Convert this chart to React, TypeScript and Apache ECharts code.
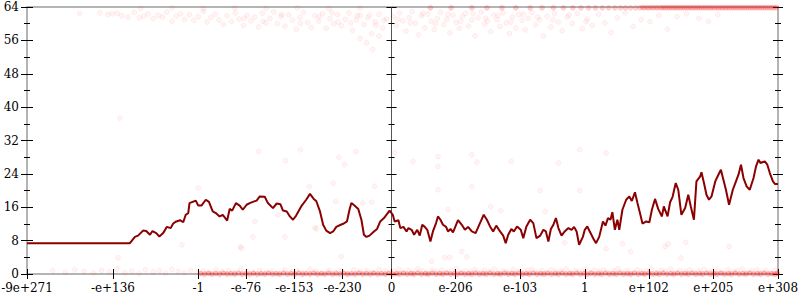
import React, { useEffect, useRef } from "react";
import * as echarts from "echarts";

// x positions are on the floating-point ordinal axis, in decades (0 = zero)
const xTickLabels = ["-9e+271", "-e+136", "-1", "-e-76", "-e-153", "-e-230", "0", "e-206", "e-103", "1", "e+102", "e+205", "e+308"];
const xTickPos = [-581, -444, -308, -232, -155, -78, 0, 102, 205, 308, 410, 513, 616];
const yTicks = [0, 8, 16, 24, 32, 40, 48, 56, 64];

const lineX = [-581, -417, -409, -404, -396, -391, -385, -381, -375, -370, -364, -358, -352, -348, -343, -337, -332, -328, -324, -322, -317, -312, -308, -303, -296, -291, -285, -280, -274, -269, -262, -258, -254, -248, -242, -237, -231, -226, -221, -215, -210, -202, -197, -189, -183, -177, -173, -167, -162, -157, -152, -144, -136, -130, -124, -120, -114, -109, -104, -98, -93, -88, -81, -76, -71, -67, -64, -59, -53, -48, -44, -40, -35, -28, -23, -18, -12, -7, -3, 2, 5, 11, 14, 19, 24, 27, 32, 36, 41, 45, 49, 53, 57, 62, 66, 71, 74, 78, 82, 87, 90, 94, 98, 106, 112, 117, 122, 128, 134, 141, 147, 152, 157, 162, 167, 173, 178, 182, 186, 191, 195, 200, 206, 210, 215, 221, 226, 231, 237, 242, 246, 250, 254, 258, 262, 266, 271, 276, 282, 287, 291, 295, 299, 305, 308, 312, 316, 322, 326, 331, 337, 341, 345, 349, 352, 356, 360, 363, 368, 374, 379, 383, 388, 392, 396, 400, 406, 411, 415, 420, 425, 431, 434, 440, 444, 448, 453, 457, 462, 468, 473, 477, 482, 486, 492, 494, 498, 502, 506, 510, 516, 521, 525, 529, 533, 538, 544, 549, 553, 557, 561, 566, 571, 577, 581, 585, 588, 595, 599, 603, 608, 611, 616];
const lineY = [7.4, 7.4, 8.9, 9.2, 10.4, 10.3, 9.4, 10.3, 9.8, 9.0, 9.8, 11.3, 11.0, 12.1, 12.6, 12.9, 12.4, 14.2, 14.6, 17.0, 17.3, 17.6, 16.4, 16.4, 17.8, 17.3, 15.0, 14.6, 13.8, 14.2, 12.8, 15.6, 15.2, 17.0, 16.4, 15.4, 16.6, 17.0, 17.3, 17.6, 18.6, 18.5, 17.0, 15.8, 16.9, 16.7, 15.2, 15.0, 13.8, 13.0, 14.0, 16.2, 17.8, 19.2, 18.0, 17.5, 15.0, 11.8, 10.4, 9.8, 10.2, 11.3, 11.8, 12.1, 12.6, 15.4, 17.0, 16.4, 15.6, 13.0, 9.4, 8.9, 9.2, 10.2, 10.8, 12.6, 13.4, 14.4, 15.2, 14.2, 12.6, 12.9, 11.0, 11.3, 10.2, 11.0, 10.6, 9.4, 10.6, 9.2, 11.8, 11.3, 10.6, 7.8, 10.2, 12.2, 13.8, 13.0, 11.8, 11.3, 10.2, 10.8, 10.0, 12.9, 11.8, 10.6, 11.3, 10.2, 9.8, 12.2, 14.2, 13.0, 11.4, 10.2, 11.6, 10.2, 9.2, 7.4, 9.4, 10.8, 10.2, 11.4, 10.6, 8.6, 11.4, 13.0, 12.2, 8.6, 9.2, 10.6, 10.2, 7.8, 10.8, 11.8, 13.4, 11.0, 9.2, 10.2, 11.0, 10.6, 11.3, 10.2, 7.0, 8.9, 10.6, 11.4, 10.2, 8.4, 7.4, 8.9, 12.6, 11.6, 13.4, 13.0, 14.8, 10.6, 13.0, 10.6, 15.4, 17.8, 18.6, 17.5, 19.6, 17.0, 14.6, 12.1, 12.6, 12.4, 15.4, 18.0, 15.6, 13.8, 16.2, 13.8, 17.2, 18.5, 21.8, 20.2, 14.2, 15.8, 19.0, 16.2, 13.0, 22.2, 23.4, 24.4, 21.8, 19.0, 17.8, 18.6, 22.2, 23.8, 25.0, 22.6, 20.2, 16.6, 20.2, 22.2, 23.8, 26.2, 23.0, 21.0, 20.2, 23.0, 25.8, 27.4, 26.6, 27.0, 26.2, 24.2, 22.2, 21.6, 21.6];

const topBandLeft = [[-497, 62.4], [-465, 62.6], [-452, 62.2], [-445, 62.4], [-437, 62.5], [-430, 61.9], [-420, 61.6], [-410, 62.7], [-402, 61.4], [-395, 61.8], [-388, 62.3], [-380, 61.2], [-372, 62.0], [-365, 61.6], [-358, 62.8], [-350, 60.6], [-343, 61.8], [-336, 62.4], [-330, 61.0], [-322, 62.2], [-315, 60.8], [-308, 61.7], [-300, 62.9], [-294, 60.4], [-288, 61.5], [-281, 62.3], [-275, 60.9], [-268, 59.8], [-262, 61.9], [-255, 60.5], [-249, 62.6], [-243, 61.1], [-236, 59.6], [-230, 62.0], [-224, 60.7], [-218, 61.6], [-212, 59.2], [-206, 62.5], [-200, 60.2], [-194, 61.3], [-188, 62.8], [-182, 60.0], [-176, 61.7], [-170, 59.4], [-164, 62.1], [-158, 60.8], [-152, 58.6], [-146, 61.5], [-140, 62.7], [-134, 60.3], [-128, 59.1], [-122, 61.9], [-116, 60.6], [-110, 62.4], [-104, 58.9], [-98, 61.2], [-92, 60.0], [-86, 62.2], [-80, 59.5], [-74, 61.0], [-68, 62.6], [-62, 58.4], [-56, 60.9], [-50, 62.0], [-44, 59.8], [-38, 61.4], [-32, 57.6], [-26, 60.4], [-20, 62.3], [-14, 59.0], [-8, 61.1], [-40, 55.4], [-30, 53.8], [-50, 56.5], [-20, 57.0], [-400, 63.7], [-350, 63.8], [-300, 63.6], [-250, 63.8], [-200, 63.7], [-150, 63.8], [-100, 63.6], [-50, 63.8], [-235, 61.3], [-205, 60.6], [-175, 62.2], [-145, 60.1], [-115, 61.7], [-85, 60.4], [-55, 61.9], [-25, 59.6], [-95, 62.6], [-65, 60.2], [-35, 62.1], [-12, 60.8]];
const topBandRight = [[3, 61.8], [8, 59.5], [13, 62.6], [18, 60.7], [23, 58.2], [28, 61.5], [33, 62.9], [38, 60.1], [43, 57.3], [48, 61.9], [53, 59.0], [58, 62.3], [63, 60.6], [68, 58.6], [73, 61.2], [78, 62.7], [83, 59.8], [88, 61.0], [93, 57.8], [98, 62.0], [103, 60.3], [108, 58.9], [113, 61.7], [118, 62.5], [123, 59.4], [128, 60.9], [133, 57.1], [138, 61.4], [143, 62.8], [148, 59.9], [153, 60.6], [158, 58.1], [163, 62.1], [168, 61.0], [173, 59.3], [178, 62.6], [183, 60.2], [188, 57.6], [193, 61.6], [198, 59.0], [203, 62.2], [208, 60.8], [213, 58.5], [218, 61.3], [224, 62.7], [230, 59.7], [236, 60.9], [242, 57.0], [248, 61.8], [254, 59.2], [260, 62.4], [266, 60.4], [272, 58.3], [280, 61.6], [288, 60.0], [296, 62.5], [304, 58.8], [312, 61.1], [320, 59.6], [330, 62.3], [340, 60.2], [350, 57.9], [360, 61.4], [372, 62.6], [385, 59.3], [398, 61.0], [412, 60.5], [426, 62.0], [440, 58.7], [455, 61.7], [470, 62.4], [490, 61.3], [505, 60.6], [520, 62.2], [10, 61.1], [30, 60.2], [50, 62.5], [70, 60.0], [90, 62.2], [110, 60.6], [130, 62.4], [150, 61.3], [170, 62.0], [190, 60.4], [210, 62.3], [233, 61.6], [257, 60.9], [283, 62.1], [310, 60.5]];
const bottomBandLeft = [[-540, 0.8], [-520, 0.4], [-505, 1.0], [-490, 0.6], [-475, 0.2], [-462, 0.9], [-450, 0.5], [-438, 1.2], [-425, 0.3], [-414, 0.7], [-402, 0.1], [-392, 1.0], [-380, 0.5], [-370, 0.8], [-360, 0.2], [-350, 1.1], [-340, 0.6], [-330, 0.3], [-320, 0.9], [-310, 0.4], [-300, 0.7], [-290, 0.1], [-280, 1.0], [-270, 0.5], [-260, 0.8], [-250, 0.3], [-240, 1.2], [-230, 0.6], [-220, 0.2], [-210, 0.9], [-200, 0.4], [-190, 0.7], [-180, 0.1], [-170, 1.0], [-160, 0.5], [-150, 0.8], [-140, 0.3], [-130, 1.1], [-120, 0.6], [-110, 0.2], [-100, 0.9], [-90, 0.4], [-80, 0.7], [-70, 0.0], [-60, 1.0], [-50, 0.5], [-40, 0.8], [-30, 0.3], [-20, 1.1], [-10, 0.6]];
const bottomBandRight = [[4, 0.6], [12, 1.1], [19, 0.2], [27, 0.8], [34, 0.4], [42, 1.2], [50, 0.7], [57, 0.1], [65, 0.9], [72, 0.5], [80, 1.0], [87, 0.3], [95, 0.7], [103, 1.3], [110, 0.2], [118, 0.8], [126, 0.5], [133, 1.0], [141, 0.3], [148, 0.9], [156, 0.6], [164, 1.2], [171, 0.1], [179, 0.7], [186, 0.4], [194, 1.0], [202, 0.6], [209, 0.2], [217, 0.9], [224, 1.1], [232, 0.4], [240, 0.8], [247, 0.2], [255, 1.0], [262, 0.5], [270, 0.7], [278, 1.2], [285, 0.3], [293, 0.8], [300, 0.5], [308, 1.1], [316, 0.2], [323, 0.9], [331, 0.6], [338, 1.0], [346, 0.3], [354, 0.7], [361, 1.2], [369, 0.4], [376, 0.8], [384, 0.1], [392, 1.0], [399, 0.5], [407, 0.7], [414, 1.1], [422, 0.3], [430, 0.9], [437, 0.6], [445, 1.2], [452, 0.2], [460, 0.8], [468, 0.5], [475, 1.0], [483, 0.3], [490, 0.7], [498, 1.1], [506, 0.4], [513, 0.9], [521, 0.6], [528, 0.2], [536, 1.0], [544, 0.5], [551, 0.8], [559, 1.2], [566, 0.3], [574, 0.7], [582, 1.0], [589, 0.4], [597, 0.8], [604, 0.2], [612, 0.9]];
const middlePoints = [[-433, 37.4], [-436, 3.9], [-334, 7.0], [-308, 20.6], [-241, 6.5], [-239, 6.2], [-221, 8.9], [-170, 8.9], [-212, 29.4], [-169, 27.2], [-145, 29.8], [-131, 21.0], [-93, 21.8], [-27, 21.0], [-46, 17.0], [-32, 17.2], [-80, 4.2], [-122, 11.1], [-120, 10.8], [-57, 29.3], [-84, 28.0], [-75, 26.2], [-218, 12.6], [-181, 14.2], [-89, 17.4], [5, 29.0], [34, 27.0], [74, 28.1], [74, 25.8], [128, 28.6], [136, 26.8], [191, 27.0], [266, 26.6], [74, 20.2], [128, 21.0], [90, 15.4], [158, 16.2], [174, 15.2], [237, 20.0], [245, 15.0], [64, 3.0], [85, 3.9], [93, 4.0], [112, 5.4], [120, 4.1], [300, 20.0], [276, 7.5], [342, 6.1], [368, 7.3], [381, 5.4], [436, 6.6], [441, 7.2], [461, 3.8], [469, 7.6], [538, 6.6], [342, 29.0], [300, 29.8]];
const zeroEdge = [[-304, 0.1], [-298, 0], [-292, 0.2], [-286, 0], [-280, 0.1], [-274, 0], [-268, 0.2], [-262, 0], [-256, 0.1], [-250, 0], [-244, 0.2], [-238, 0], [-232, 0.1], [-226, 0], [-220, 0.2], [-214, 0], [-208, 0.1], [-202, 0], [-196, 0.2], [-190, 0], [-184, 0.1], [-178, 0], [-172, 0.2], [-166, 0], [-160, 0.1], [-154, 0], [-148, 0.2], [-142, 0], [-136, 0.1], [-130, 0], [-124, 0.2], [-118, 0], [-112, 0.1], [-106, 0], [-100, 0.2], [-94, 0], [-88, 0.1], [-82, 0], [-76, 0.2], [-70, 0], [-64, 0.1], [-58, 0], [-52, 0.2], [-46, 0], [-40, 0.1], [-34, 0], [-28, 0.2], [-22, 0], [-16, 0.1], [-10, 0], [-4, 0.2], [2, 0], [8, 0.1], [13, 0], [19, 0.2], [25, 0], [31, 0.1], [36, 0], [42, 0.2], [48, 0], [54, 0.1], [59, 0], [65, 0.2], [71, 0], [77, 0.1], [82, 0], [88, 0.2], [94, 0], [100, 0.1], [105, 0], [111, 0.2], [117, 0], [123, 0.1], [128, 0], [134, 0.2], [140, 0], [146, 0.1], [151, 0], [157, 0.2], [163, 0], [169, 0.1], [174, 0], [180, 0.2], [186, 0], [192, 0.1], [197, 0], [203, 0.2], [209, 0], [215, 0.1], [220, 0], [226, 0.2], [232, 0], [238, 0.1], [243, 0], [249, 0.2], [255, 0], [261, 0.1], [266, 0], [272, 0.2], [278, 0], [284, 0.1], [289, 0], [295, 0.2], [301, 0], [307, 0.1], [312, 0], [318, 0.2], [324, 0], [330, 0.1], [335, 0], [341, 0.2], [347, 0], [353, 0.1], [358, 0], [364, 0.2], [370, 0], [376, 0.1], [381, 0], [387, 0.2], [393, 0], [399, 0.1], [404, 0], [410, 0.2], [416, 0], [422, 0.1], [427, 0], [433, 0.2], [439, 0], [445, 0.1], [450, 0], [456, 0.2], [462, 0], [468, 0.1], [473, 0], [479, 0.2], [485, 0], [491, 0.1], [496, 0], [502, 0.2], [508, 0], [514, 0.1], [519, 0], [525, 0.2], [531, 0], [537, 0.1], [542, 0], [548, 0.2], [554, 0], [560, 0.1], [565, 0], [571, 0.2], [577, 0], [583, 0.1], [588, 0], [594, 0.2], [600, 0], [606, 0.1], [611, 0], [615, 0.2]];
const topEdge = [[62, 63.8], [95, 63.8], [128, 63.8], [152, 63.8], [176, 63.8], [198, 63.8], [221, 63.8], [240, 63.8], [258, 63.8], [274, 63.8], [289, 63.8], [302, 63.8], [314, 63.8], [325, 63.8], [336, 63.8], [346, 63.8], [356, 63.8], [365, 63.8], [373, 63.8], [381, 63.8], [389, 63.8], [396, 63.8], [400, 63.9], [403, 63.8], [407, 63.9], [410, 63.8], [414, 63.9], [417, 63.8], [421, 63.9], [424, 63.8], [428, 63.9], [431, 63.8], [434, 63.9], [437, 63.8], [440, 63.9], [443, 63.8], [446, 63.9], [449, 63.8], [452, 63.9], [455, 63.8], [458, 63.9], [461, 63.8], [464, 63.9], [467, 63.8], [470, 63.9], [473, 63.8], [476, 63.9], [479, 63.8], [482, 63.9], [485, 63.8], [488, 63.9], [491, 63.8], [494, 63.9], [497, 63.8], [500, 63.9], [503, 63.8], [506, 63.9], [509, 63.8], [512, 63.9], [515, 63.8], [518, 63.9], [521, 63.8], [524, 63.9], [527, 63.8], [530, 63.9], [533, 63.8], [536, 63.9], [539, 63.8], [542, 63.9], [545, 63.8], [548, 63.9], [551, 63.8], [554, 63.9], [557, 63.8], [560, 63.9], [563, 63.8], [566, 63.9], [569, 63.8], [572, 63.9], [575, 63.8], [578, 63.9], [581, 63.8], [584, 63.9], [587, 63.8], [590, 63.9], [593, 63.8], [596, 63.9], [599, 63.8], [602, 63.9], [605, 63.8], [608, 63.9], [611, 63.8], [614, 63.9]];

const FONT = "'DejaVu Serif', serif";
const AXIS_GRAY = "#b4b4b4";

export default function App() {
  const ref = useRef<HTMLDivElement>(null);
  useEffect(() => {
    if (!ref.current) return;
    const chart = echarts.init(ref.current, null, { renderer: "svg" });
    const xLabelFmt = (v: number) => {
      const i = xTickPos.indexOf(v);
      return i >= 0 ? xTickLabels[i] : "";
    };
    const yBase = {
      type: "value" as const,
      min: yTicks[0],
      max: yTicks[yTicks.length - 1],
      interval: 8,
      splitLine: { show: false },
      axisLabel: { show: false },
    };
    const tickStyle = { color: "#000", width: 1 };
    const mkY = (position: string, inside: boolean, len: number, line: any, onZero: boolean, labels = false) => ({
      ...yBase,
      position,
      axisLine: { show: !!line, onZero, onZeroAxisIndex: 0, lineStyle: line || {} },
      axisTick: { show: true, inside, length: len, lineStyle: tickStyle },
      minorTick: { show: true, splitNumber: 2, length: 3, lineStyle: tickStyle },
      axisLabel: labels
        ? { show: true, margin: 8, fontFamily: FONT, fontSize: 12, color: "#000" }
        : { show: false },
    });
    const grayLine = { color: AXIS_GRAY, width: 2 };
    const midLine = { color: "#555", width: 1 };
    const scatterStyle = {
      color: "rgba(255,0,0,0.06)",
      borderColor: "rgba(255,0,0,0.07)",
      borderWidth: 1,
    };
    const edgeStyle = {
      color: "rgba(255,0,0,0.22)",
      borderColor: "rgba(255,0,0,0.12)",
      borderWidth: 1,
    };
    const zeroStyle = {
      color: "rgba(255,0,0,0.32)",
      borderColor: "rgba(255,0,0,0.16)",
      borderWidth: 1,
    };
    chart.setOption({
      animation: false,
      backgroundColor: "#fff",
      grid: { left: 27, right: 22, top: 7, bottom: 26, containLabel: false, outerBoundsMode: "none" },
      xAxis: [
        {
          type: "value",
          position: "bottom",
          min: xTickPos[0],
          max: xTickPos[xTickPos.length - 1],
          axisLine: { show: true, onZero: false, lineStyle: grayLine },
          axisTick: { show: true, inside: false, length: 5, customValues: xTickPos, lineStyle: tickStyle },
          axisLabel: {
            show: true,
            customValues: xTickPos,
            formatter: xLabelFmt,
            margin: 8,
            fontFamily: FONT,
            fontSize: 12,
            color: "#000",
          },
          splitLine: { show: false },
        },
        {
          type: "value",
          position: "bottom",
          min: xTickPos[0],
          max: xTickPos[xTickPos.length - 1],
          axisLine: { show: false, onZero: false },
          axisTick: { show: true, inside: true, length: 5, customValues: xTickPos, lineStyle: tickStyle },
          axisLabel: { show: false },
          splitLine: { show: false },
        },
        {
          type: "value",
          position: "top",
          min: xTickPos[0],
          max: xTickPos[xTickPos.length - 1],
          axisLine: { show: true, onZero: false, lineStyle: grayLine },
          axisTick: { show: false },
          axisLabel: { show: false },
          splitLine: { show: false },
        },
      ],
      yAxis: [
        mkY("left", false, 6, grayLine, false, true),
        mkY("left", true, 6, null, false),
        mkY("right", false, 5, grayLine, false),
        mkY("right", true, 5, null, false),
        mkY("left", false, 5, midLine, true),
        mkY("left", true, 5, null, true),
      ],
      series: [
        { type: "scatter", data: topBandLeft, symbolSize: 5, itemStyle: scatterStyle, silent: true },
        { type: "scatter", data: topBandRight, symbolSize: 5, itemStyle: scatterStyle, silent: true },
        { type: "scatter", data: bottomBandLeft, symbolSize: 5, itemStyle: scatterStyle, silent: true },
        { type: "scatter", data: bottomBandRight, symbolSize: 5, itemStyle: scatterStyle, silent: true },
        { type: "scatter", data: middlePoints, symbolSize: 5, itemStyle: scatterStyle, silent: true },
        { type: "scatter", data: zeroEdge, symbolSize: 5, itemStyle: zeroStyle, silent: true },
        { type: "scatter", data: topEdge, symbolSize: 5, itemStyle: edgeStyle, silent: true },
        {
          type: "line",
          data: lineX.map((x, i) => [x, lineY[i]]),
          showSymbol: false,
          symbol: "none",
          lineStyle: { color: "#8b0000", width: 2 },
          z: 5,
          silent: true,
        },
      ],
    });
    return () => chart.dispose();
  }, []);
  return <div ref={ref} style={{ position: "fixed", left: 0, top: 0, width: 800, height: 300 }} />;
}
